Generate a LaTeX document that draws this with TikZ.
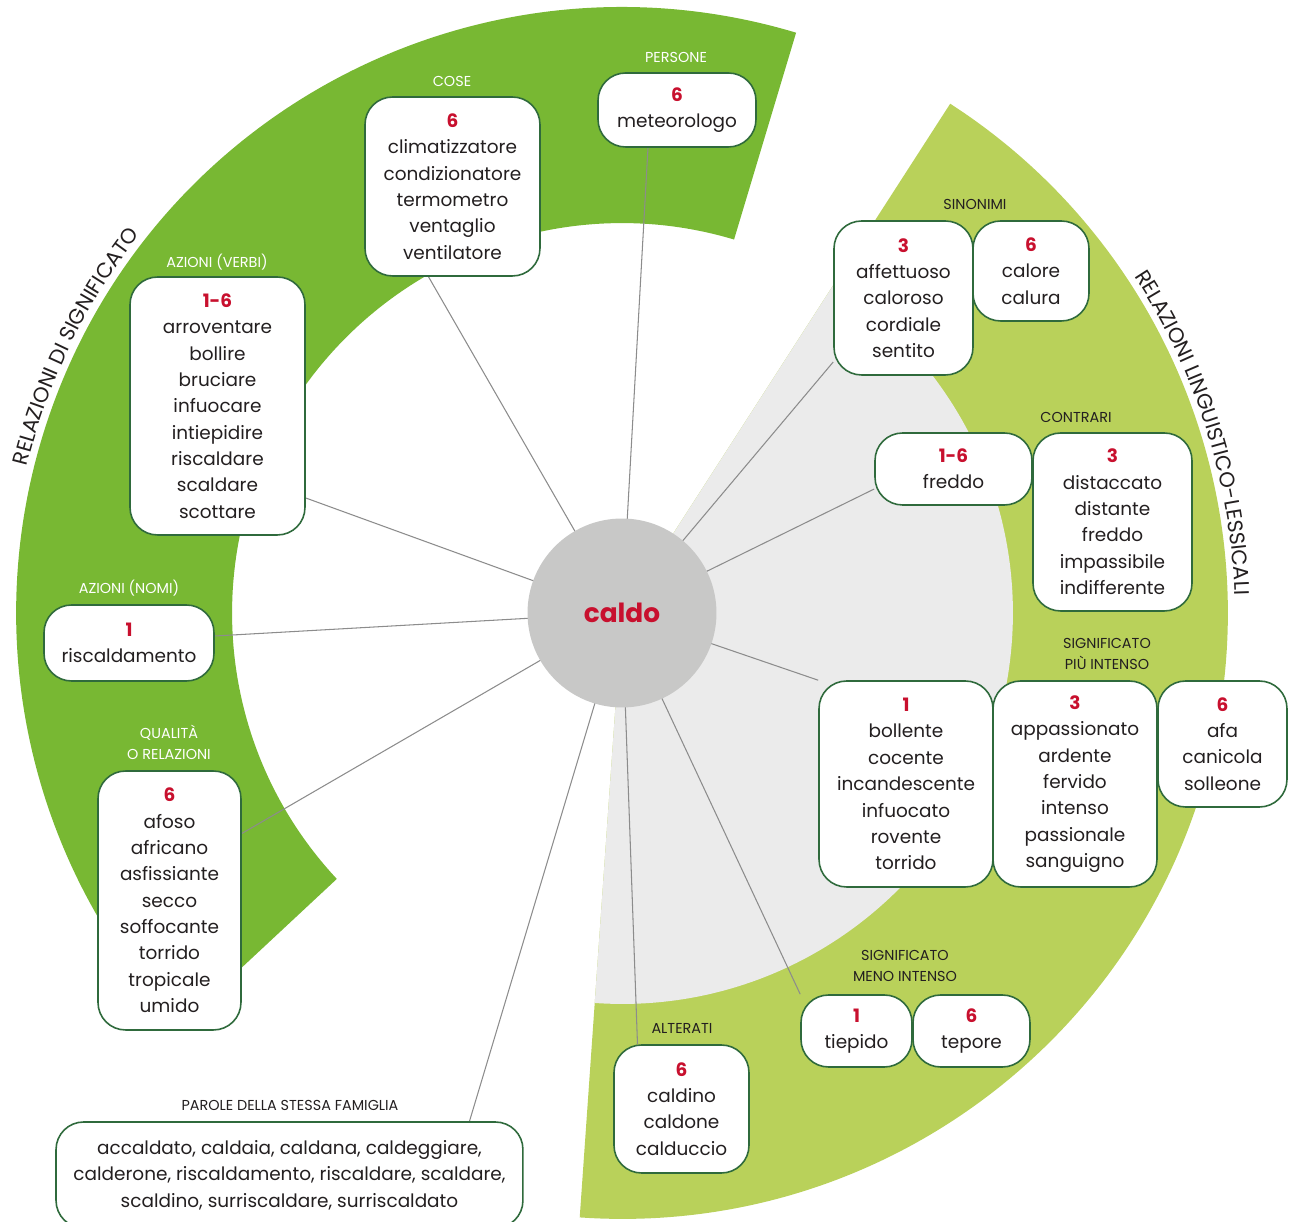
\documentclass[tikz,border=0pt]{standalone}
\usepackage{fontspec}
\setmainfont{Poppins}
\usetikzlibrary{positioning,calc,backgrounds,decorations.text}
\definecolor{ringdark}{HTML}{78B833}
\definecolor{ringlight}{HTML}{B9D15A}
\definecolor{wedgegrey}{HTML}{EBEBEB}
\definecolor{hubgrey}{HTML}{C8C8C7}
\definecolor{boxline}{HTML}{2F6A3C}
\definecolor{numred}{HTML}{C8102E}
\definecolor{linkgrey}{HTML}{8C8C8C}
\definecolor{ink}{HTML}{231F20}
\newcommand{\lvl}[1]{\textcolor{numred}{\bfseries #1}\\}
\newcommand{\arcfont}{\fontsize{12}{14}\selectfont\color{ink}}
\tikzset{
  box/.style={draw=boxline,line width=0.9pt,fill=white,rounded corners=0.55cm,align=center,inner sep=0pt,text=ink,font=\fontsize{10.5}{15}\selectfont},
  cat/.style={align=center,font=\fontsize{8.2}{12}\selectfont},
  link/.style={draw=linkgrey,line width=0.6pt}
}
\begin{document}
\begin{tikzpicture}[x=0.02cm,y=0.02cm]
	\useasboundingbox (-622,-609) rectangle (669,613);
	\node[circle,fill=hubgrey,minimum size=3.78cm,inner sep=0pt,text=numred,font=\bfseries\fontsize{15}{18}\selectfont] (caldo) at (0,0) {caldo};
	\node[box,minimum width=3.5cm,minimum height=3.58cm] (cose) at (-169.5,426.5) {\lvl{6}climatizzatore\\condizionatore\\termometro\\ventaglio\\ventilatore};
	\node[box,minimum width=3.16cm,minimum height=1.48cm] (persone) at (55,503) {\lvl{6}meteorologo};
	\node[box,minimum width=3.5cm,minimum height=5.16cm] (verbi) at (-404.5,207) {\lvl{1-6}arroventare\\bollire\\bruciare\\infuocare\\intiepidire\\riscaldare\\scaldare\\scottare};
	\node[box,minimum width=3.4cm,minimum height=1.52cm] (nomi) at (-493,-30) {\lvl{1}riscaldamento};
	\node[box,minimum width=2.86cm,minimum height=5.18cm] (qualita) at (-452.5,-287.5) {\lvl{6}afoso\\africano\\asfissiante\\secco\\soffocante\\torrido\\tropicale\\umido};
	\node[box,minimum width=9.34cm,minimum height=2.12cm] (parole) at (-332.5,-562) {accaldato, caldaia, caldana, caldeggiare,\\calderone, riscaldamento, riscaldare, scaldare,\\scaldino, surriscaldare, surriscaldato};
	\node[box,minimum width=2.7cm,minimum height=2.56cm] (alterati) at (59.5,-496) {\lvl{6}caldino\\caldone\\calduccio};
	\node[box,minimum width=2.22cm,minimum height=1.44cm] (tiepido) at (234.5,-418) {\lvl{1}tiepido};
	\node[box,minimum width=2.34cm,minimum height=1.44cm] (tepore) at (349.5,-418) {\lvl{6}tepore};
	\node[box,minimum width=3.48cm,minimum height=4.12cm] (pi1) at (284,-171) {\lvl{1}bollente\\cocente\\incandescente\\infuocato\\rovente\\torrido};
	\node[box,minimum width=3.28cm,minimum height=4.12cm] (pi3) at (453,-171) {\lvl{3}appassionato\\ardente\\fervido\\intenso\\passionale\\sanguigno};
	\node[box,minimum width=2.58cm,minimum height=2.52cm] (pi6) at (600.5,-131) {\lvl{6}afa\\canicola\\solleone};
	\node[box,minimum width=3.14cm,minimum height=1.44cm] (freddo) at (331.5,144) {\lvl{1-6}freddo};
	\node[box,minimum width=3.18cm,minimum height=3.56cm] (contr3) at (490.5,91) {\lvl{3}distaccato\\distante\\freddo\\impassibile\\indifferente};
	\node[box,minimum width=2.78cm,minimum height=3.08cm] (sin3) at (281.5,315) {\lvl{3}affettuoso\\caloroso\\cordiale\\sentito};
	\node[box,minimum width=2.32cm,minimum height=2cm] (sin6) at (409,342) {\lvl{6}calore\\calura};
	\node[cat,text=white] (cose-t) at (-170,532) {COSE};
	\node[cat,text=white] (persone-t) at (54,556) {PERSONE};
	\node[cat,text=white] (verbi-t) at (-405,351) {AZIONI (VERBI)};
	\node[cat,text=white] (nomi-t) at (-493,25) {AZIONI (NOMI)};
	\node[cat,text=white] (qualita-t) at (-453,-129) {QUALITÀ\\O RELAZIONI};
	\node[cat,text=ink] (parole-t) at (-332,-492) {PAROLE DELLA STESSA FAMIGLIA};
	\node[cat,text=ink] (alterati-t) at (60,-415) {ALTERATI};
	\node[cat,text=ink] (meno-t) at (283,-353) {SIGNIFICATO\\MENO INTENSO};
	\node[cat,text=ink] (piu-t) at (485,-41) {SIGNIFICATO\\PIÙ INTENSO};
	\node[cat,text=ink] (contrari-t) at (454,196) {CONTRARI};
	\node[cat,text=ink] (sinonimi-t) at (353,409) {SINONIMI};
	\path[decorate,decoration={text along path,text align=center,text={|\arcfont|RELAZIONI DI SIGNIFICATO}}] (176:12.26cm) arc[start angle=176,end angle=132,radius=12.26cm];
	\path[decorate,decoration={text along path,text align=center,text={|\arcfont|RELAZIONI LINGUISTICO-LESSICALI}}] (40:12.26cm) arc[start angle=40,end angle=-5,radius=12.26cm];
	\begin{scope}[on background layer]
		\fill[ringdark] (73.3:7.8cm) -- (73.3:12.12cm) arc[start angle=73.3,end angle=223,radius=12.12cm] -- (223:7.8cm) arc[start angle=223,end angle=73.3,radius=7.8cm] -- cycle;
		\fill[ringlight] (0,0) -- (-94:12.12cm) arc[start angle=-94,end angle=57.2,radius=12.12cm] -- cycle;
		\fill[wedgegrey] (0,0) -- (-94:7.82cm) arc[start angle=-94,end angle=57.2,radius=7.82cm] -- cycle;
		\foreach \b/\a/\dx/\dy in {cose/south/-24/0,persone/south/-29/0,verbi/east/0/-92,nomi/east/0/7,qualita/east/0/67,parole/north/180/0,alterati/north/-44/0,tiepido/north west/0/0,pi1/north west/0/0,freddo/west/0/-20,sin3/west/0/-64}
			\draw[link] (caldo.center) -- ($(\b.\a)+(\dx,\dy)$);
	\end{scope}
\end{tikzpicture}
\end{document}
